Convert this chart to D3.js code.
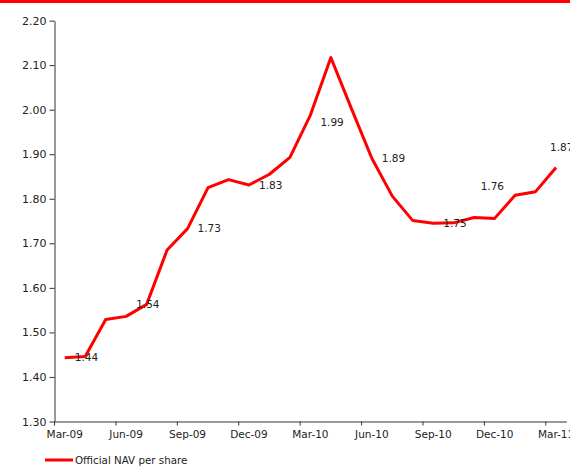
<!DOCTYPE html>
<html>
<head>
<meta charset="utf-8">
<script src="https://cdn.jsdelivr.net/npm/d3@7"></script>
<style>
  body { margin: 0; background: #fff; }
  text { font-family: "DejaVu Sans", Verdana, sans-serif; fill: #222; }
</style>
</head>
<body>
<div class="chart"></div>
<script>
const months = [
    "Mar-09", "Apr-09", "May-09", "Jun-09", "Jul-09", "Aug-09", "Sep-09",
    "Oct-09", "Nov-09", "Dec-09", "Jan-10", "Feb-10", "Mar-10", "Apr-10",
    "May-10", "Jun-10", "Jul-10", "Aug-10", "Sep-10", "Oct-10", "Nov-10",
    "Dec-10", "Jan-11", "Feb-11", "Mar-11"
]
const nav = [
    1.443, 1.446, 1.529, 1.536, 1.563, 1.685, 1.733, 1.825, 1.843, 1.831,
    1.855, 1.893, 1.988, 2.117, 2.003, 1.891, 1.806, 1.751, 1.745, 1.746,
    1.758, 1.756, 1.808, 1.816, 1.870
]
const axisMonths = ["Mar-09", "Jun-09", "Sep-09", "Dec-09", "Mar-10", "Jun-10", "Sep-10", "Dec-10", "Mar-11"]
const yTicks = [1.30, 1.40, 1.50, 1.60, 1.70, 1.80, 1.90, 2.00, 2.10, 2.20]
const seriesName = "Official NAV per share"

// label nudges (px) for the quarter-end value labels
const labelShift = {
    "Mar-09": [0, 0], "Jun-09": [0, -12], "Sep-09": [0, 0], "Dec-09": [0, 0],
    "Mar-10": [0, 7], "Jun-10": [0, 0], "Sep-10": [0, 0], "Dec-10": [-24, -32],
    "Mar-11": [-16, -20]
}

const W = 570, H = 467
const svg = d3.select(".chart").append("svg").attr("width", W).attr("height", H)

// red rule across the top
svg.append("rect").attr("x", 0).attr("y", 0).attr("width", W).attr("height", 3).attr("fill", "#ff0000")

const x = d3.scaleBand().domain(months).range([54.5, 566.3]).padding(0)
const y = d3.scaleLinear().domain([1.30, 2.20]).range([421.5, 20.6])

// y axis
const yAxis = svg.append("g").attr("transform", "translate(54.5,0)")
    .call(d3.axisLeft(y).tickValues(yTicks).tickFormat(d3.format(".2f")).tickSize(5).tickSizeOuter(0).tickPadding(3))
yAxis.select(".domain").attr("stroke", "#333")
yAxis.selectAll(".tick line").attr("stroke", "#333")
yAxis.selectAll(".tick text").style("font-size", "11px").attr("fill", "#222")

// x axis: labels at the points, tick marks at the month boundaries
const xAxis = svg.append("g").attr("transform", "translate(0,421.5)")
    .call(d3.axisBottom(x).tickValues(axisMonths).tickSize(0).tickSizeOuter(0).tickPadding(9))
xAxis.select(".domain").attr("stroke", "#333")
xAxis.selectAll(".tick line").remove()
xAxis.selectAll(".tick text").style("font-size", "10.5px").attr("fill", "#222")
xAxis.selectAll(".tickmark").data(axisMonths).join("line")
    .attr("x1", d => x(d)).attr("x2", d => x(d))
    .attr("y1", 0).attr("y2", 4).attr("stroke", "#333")

const cx = d => x(d) + x.bandwidth() / 2

const line = d3.line().x((d, i) => cx(months[i])).y(d => y(d))
svg.append("path").datum(nav).attr("d", line)
    .attr("fill", "none").attr("stroke", "#ff0000").attr("stroke-width", 3)
    .attr("stroke-linejoin", "round")

// value labels at quarter ends
svg.append("g").selectAll("text").data(axisMonths).join("text")
    .attr("x", d => cx(d) + 10 + labelShift[d][0])
    .attr("y", d => y(nav[months.indexOf(d)]) + labelShift[d][1])
    .attr("dy", "0.35em")
    .style("font-size", "10.5px")
    .text(d => nav[months.indexOf(d)].toFixed(2))

// legend
const lg = svg.append("g").attr("transform", "translate(45,460)")
lg.append("line").attr("x1", 0).attr("x2", 28).attr("y1", 0).attr("y2", 0)
    .attr("stroke", "#ff0000").attr("stroke-width", 3)
lg.append("text").attr("x", 30).attr("dy", "0.35em").style("font-size", "10.3px").text(seriesName)
</script>
</body>
</html>
